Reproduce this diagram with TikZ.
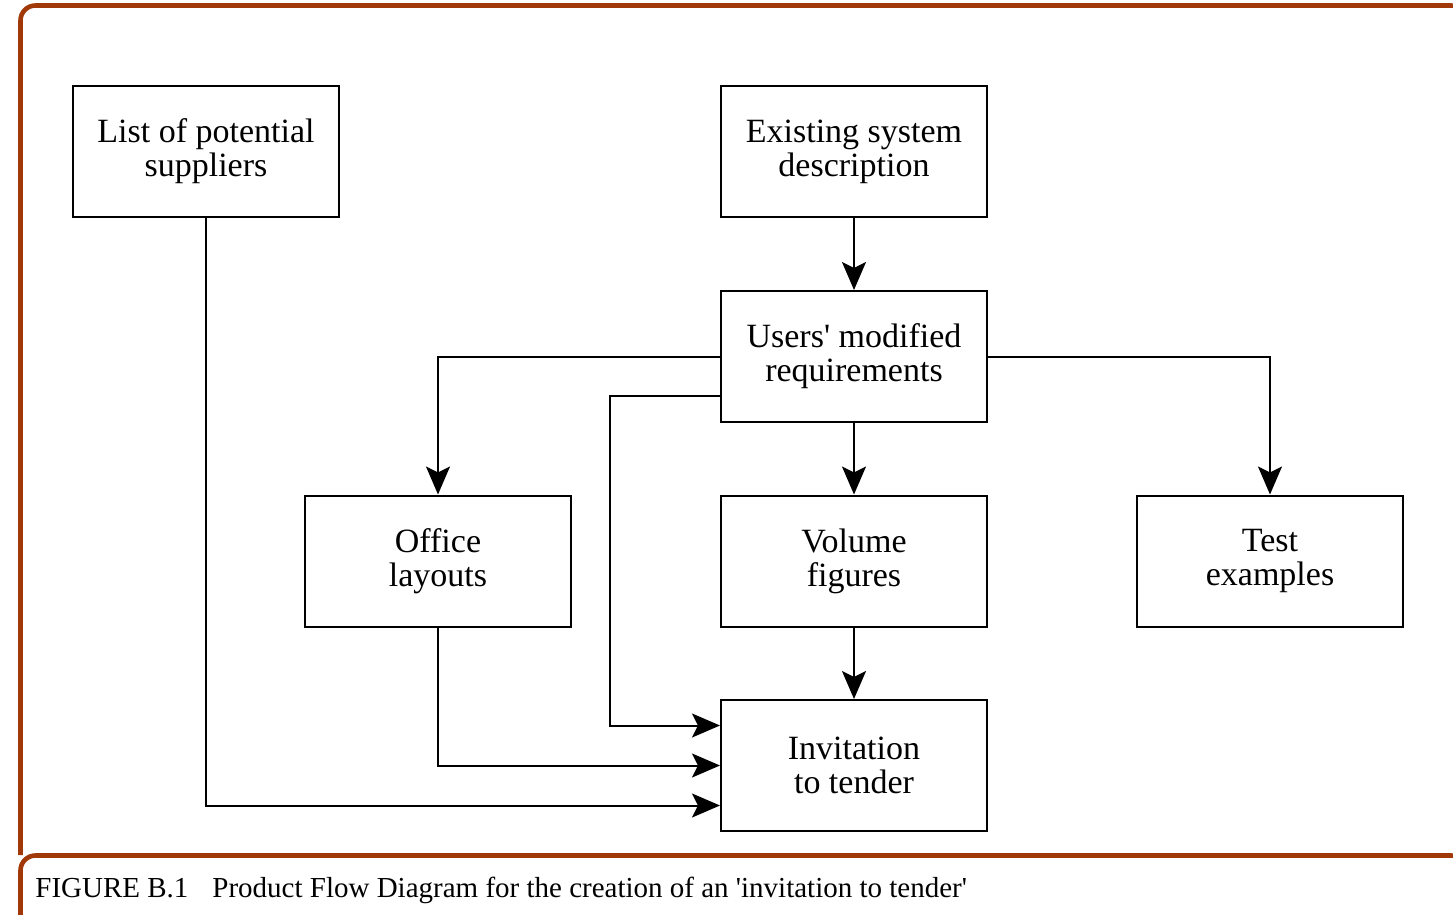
\documentclass[tikz,border=0pt]{standalone}
\usepackage{fontspec}
\setmainfont{Liberation Serif}
\usetikzlibrary{arrows.meta}
\definecolor{rust}{RGB}{160,56,8}
\begin{document}
\begin{tikzpicture}[x=0.5pt,y=-0.5pt,
  stepbox/.style={draw,line width=1pt,minimum width=133pt,minimum height=65.5pt,
    inner sep=0pt,align=center,font=\fontsize{17}{17}\selectfont},
  flow/.style={line width=1pt,-{Stealth[length=14pt,width=12pt,inset=3pt]}},
  frame/.style={draw=rust,line width=2.3pt,rounded corners=7.5pt}]
\useasboundingbox (0,0) rectangle (1453,915);
% outer frame and caption panel
\draw[frame] (20.5,855) -- (20.5,5.5) -- (1466,5.5) -- (1466,855);
\draw[frame] (20.5,935) -- (20.5,855.5) -- (1466,855.5) -- (1466,935);
\node[anchor=base west,inner sep=0pt,font=\fontsize{14.5}{14.5}\selectfont] (cap) at (35,897)
  {FIGURE B.1\hspace{12pt}Product Flow Diagram for the creation of an \textquotesingle invitation to tender\textquotesingle};
% process boxes
\node[stepbox] (list)   at (206,151.5) {List of potential\\suppliers};
\node[stepbox] (exist)  at (854,151.5) {Existing system\\description};
\node[stepbox] (users)  at (854,356.5) {Users\textquotesingle{} modified\\requirements};
\node[stepbox] (office) at (438,561)   {Office\\layouts};
\node[stepbox] (volume) at (854,561)   {Volume\\figures};
\node[stepbox] (test)   at (1270,561)  {Test\\examples};
\node[stepbox] (invite) at (854,765.5) {Invitation\\to tender};
% connectors
\draw[flow] (exist) -- (users);
\draw[flow] (users) -- (volume);
\draw[flow] (volume) -- (invite);
\draw[flow] (users.west) -| (office.north);
\draw[flow] (users.east) -| (test.north);
\draw[flow] ([yshift=-19.5pt]users.west) -| ([xshift=-55pt,yshift=20pt]invite.west)
  -- ([yshift=20pt]invite.west);
\draw[flow] (office.south) |- (invite.west);
\draw[flow] (list.south) |- ([yshift=-20pt]invite.west);
\end{tikzpicture}
\end{document}
